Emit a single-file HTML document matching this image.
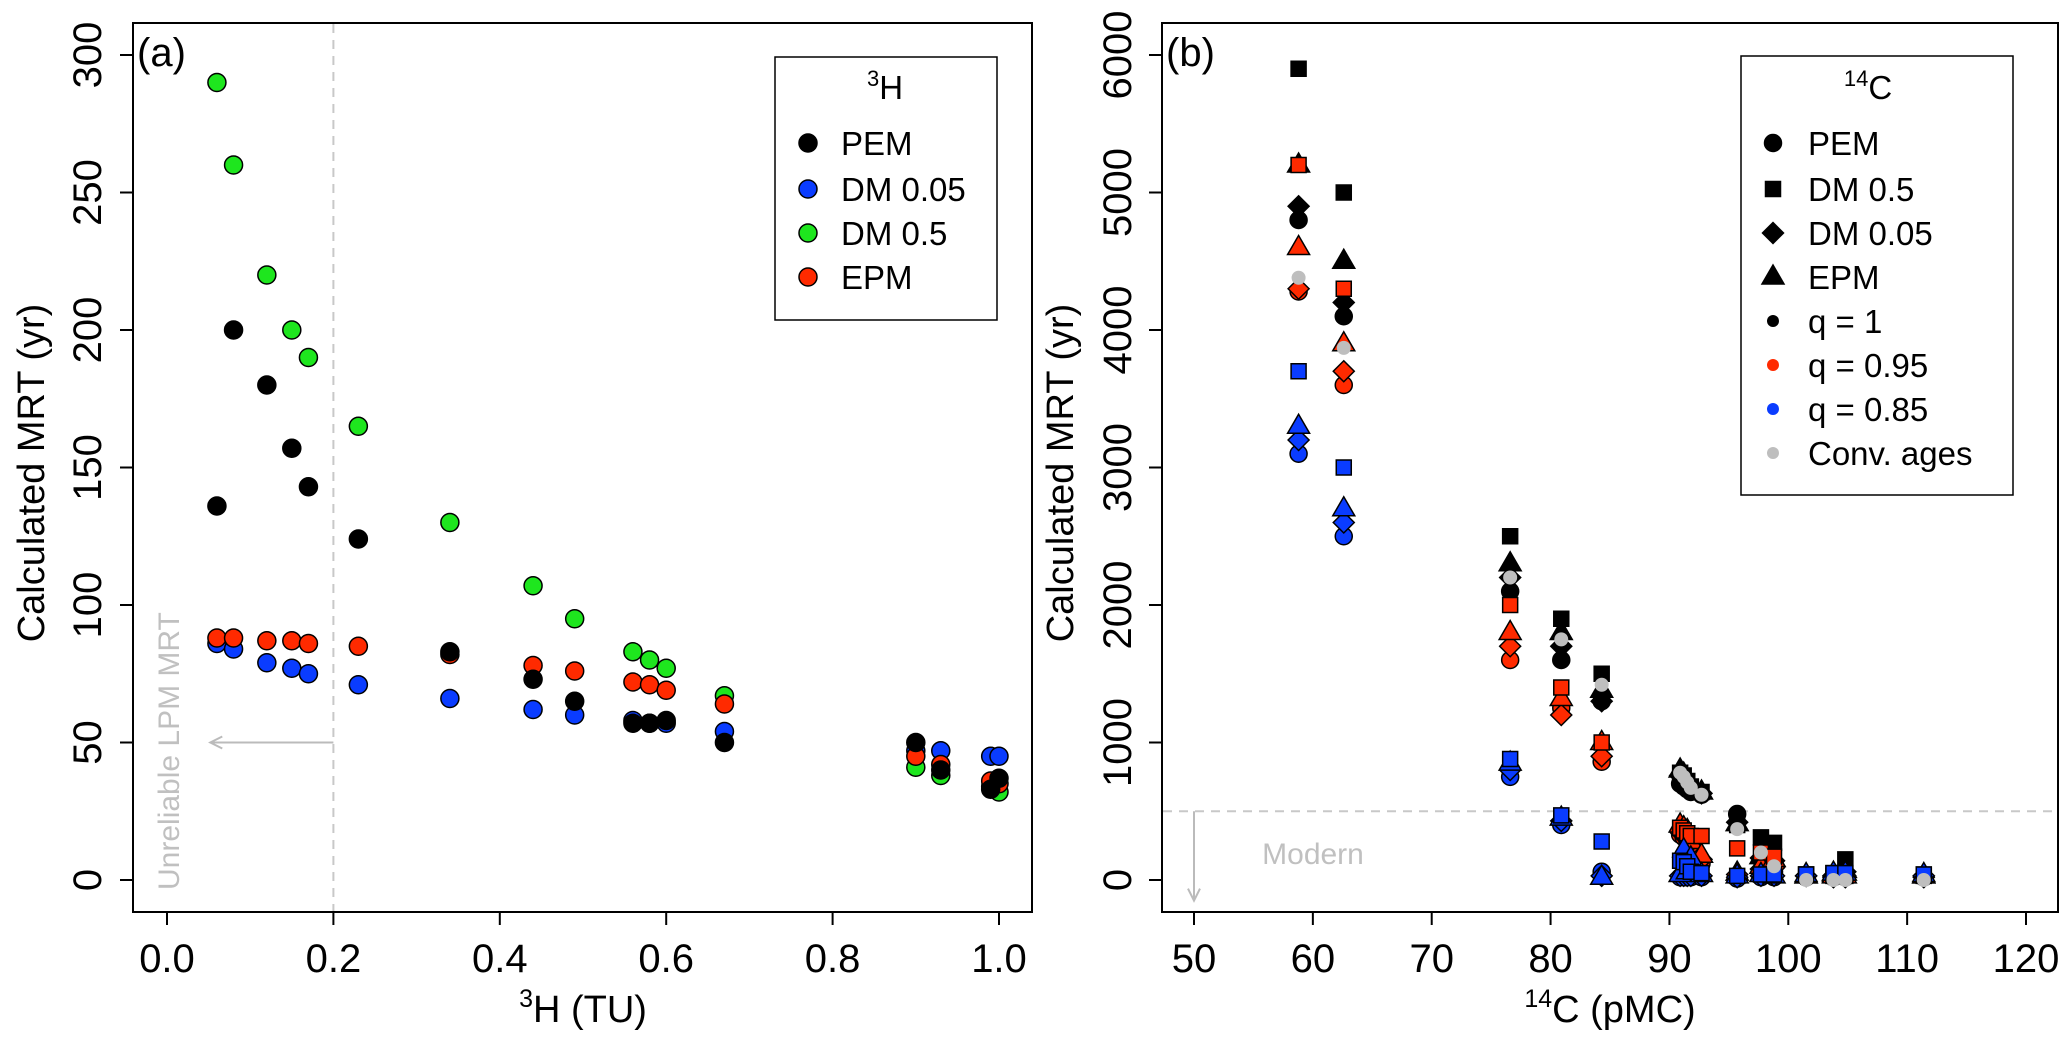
<!DOCTYPE html>
<html><head><meta charset="utf-8"><style>
html,body{margin:0;padding:0;background:#fff;}
svg{display:block;font-family:"Liberation Sans",Arial,sans-serif;}
</style></head><body>
<svg id="chart" width="2067" height="1038" viewBox="0 0 2067 1038" xmlns="http://www.w3.org/2000/svg">
<rect x="0" y="0" width="2067" height="1038" fill="#fff"/>
<g id="pa"></g>
<g id="pb"></g>
</svg>
<script>
// ---------- Panel (a) data ----------
const aX = [0.06,0.08,0.12,0.15,0.17,0.23,0.34,0.44,0.49,0.56,0.58,0.60,0.67,0.90,0.93,0.99,1.00];
const aDM05 = [290,260,220,200,190,165,130,107,95,83,80,77,67,41,38,34,32];
const aDM005 = [86,84,79,77,75,71,66,62,60,58,57,57,54,47,47,45,45];
const aEPM = [88,88,87,87,86,85,82,78,76,72,71,69,64,45,42,36,35];
const aPEM = [136,200,180,157,143,124,83,73,65,57,57,58,50,50,40,33,37];
const aXTicks = [0,0.2,0.4,0.6,0.8,1.0];
const aXTickLabels = ["0.0","0.2","0.4","0.6","0.8","1.0"];
const aYTicks = [0,50,100,150,200,250,300];

// ---------- Panel (b) data ----------
const bX = [58.8,62.6,76.6,80.9,84.3,90.9,91.2,91.5,91.8,92.7,95.7,97.7,98.8,101.5,103.8,104.8,111.4];
const bPEM1  = [4800,4100,2100,1600,1300,700,680,660,640,620,480,150,120,20,20,30,20];
const bDM051 = [5900,5000,2500,1900,1500,780,760,720,680,640,400,310,270,40,50,150,40];
const bDM0051= [4900,4200,2200,1700,1300,760,740,700,670,630,420,160,140,30,30,60,30];
const bEPM1  = [5200,4500,2300,1800,1380,800,770,730,690,640,410,170,150,30,40,70,30];
const bPEM95  = [4280,3600,1600,1250,860,330,310,290,260,120,30,60,60,20,20,20,20];
const bDM0595 = [5200,4300,2000,1400,1000,380,360,340,320,320,230,200,170,40,30,30,30];
const bDM00595= [4300,3700,1700,1200,900,350,330,310,280,150,40,80,90,30,20,20,20];
const bEPM95  = [4600,3900,1800,1320,1000,400,380,360,280,180,50,100,150,30,30,30,30];
const bPEM85  = [3100,2500,750,400,60,20,20,20,20,20,10,20,20,20,20,20,20];
const bDM0585 = [3700,3000,880,470,280,140,130,100,60,50,30,40,40,40,50,50,40];
const bDM00585= [3200,2600,800,430,30,30,30,30,30,30,20,30,30,30,30,30,30];
const bEPM85  = [3300,2700,850,450,20,40,220,60,160,40,30,40,30,40,50,50,40];
const bConv = [4380,3870,2200,1750,1420,780,750,710,670,620,370,200,100,0,0,0,0];
const bXTicks = [50,60,70,80,90,100,110,120];
const bYTicks = [0,1000,2000,3000,4000,5000,6000];

const NS="http://www.w3.org/2000/svg";
function mk(parent,tag,attrs,text){const e=document.createElementNS(NS,tag);for(const k in attrs)e.setAttribute(k,attrs[k]);if(text!==undefined)e.textContent=text;parent.appendChild(e);return e;}

const COL={black:"#000",blue:"#0a3cff",green:"#1ee61e",red:"#ff2a00",gray:"#bebebe"};
const TF=40, AF=38;

// ---------- Panel A ----------
const pa=document.getElementById('pa');
const ax=v=>167+(v-0)*(999-167)/1.0;
const ay=v=>880-(v)*(880-55)/300;
let e;
e=mk(pa,'rect',{x:133,y:23,width:899,height:889,fill:'none',stroke:'#000','stroke-width':2});

e=mk(pa,'line',{x1:ax(0.2),y1:24,x2:ax(0.2),y2:911,stroke:'#c8c8c8','stroke-width':2,'stroke-dasharray':'9,7'});

e=mk(pa,'line',{x1:ax(0.2),y1:ay(50),x2:ax(0.052),y2:ay(50),stroke:'#bbb','stroke-width':2});

mk(pa,'polyline',{points:`${ax(0.052)+12},${ay(50)-6} ${ax(0.052)},${ay(50)} ${ax(0.052)+12},${ay(50)+6}`,fill:'none',stroke:'#bbb','stroke-width':2});
e=mk(pa,'text',{x:0,y:0,transform:`translate(179,890) rotate(-90)`,'font-size':30,fill:'#c0c0c0'},'Unreliable LPM MRT');

aXTicks.forEach((t,i)=>{
  mk(pa,'line',{x1:ax(t),y1:912,x2:ax(t),y2:925,stroke:'#000','stroke-width':2});
  e=mk(pa,'text',{x:ax(t),y:972,'font-size':TF,'text-anchor':'middle'},aXTickLabels[i]);
  
});
mk(pa,'line',{x1:ax(0),y1:912,x2:ax(1),y2:912,stroke:'#000','stroke-width':2});
aYTicks.forEach(t=>{
  mk(pa,'line',{x1:133,y1:ay(t),x2:120,y2:ay(t),stroke:'#000','stroke-width':2});
  e=mk(pa,'text',{x:0,y:0,transform:`translate(101,${ay(t)}) rotate(-90)`,'font-size':TF,'text-anchor':'middle'},String(t));
  
});
e=mk(pa,'text',{x:0,y:0,transform:`translate(44,473) rotate(-90)`,'font-size':AF,'text-anchor':'middle'},'Calculated MRT (yr)');

e=mk(pa,'text',{x:583,y:1022,'font-size':AF,'text-anchor':'middle'});
e.innerHTML='<tspan font-size="25" dy="-15">3</tspan><tspan dy="15">H (TU)</tspan>';

e=mk(pa,'text',{x:137,y:66,'font-size':40},'(a)');

function circ(g,x,y,r,fill,name){const c=mk(g,'circle',{cx:x,cy:y,r:r,fill:fill,stroke:'#000','stroke-width':1.5});return c;}
[[aDM05,COL.green,'dm05'],[aDM005,COL.blue,'dm005'],[aEPM,COL.red,'epm'],[aPEM,COL.black,'pem']].forEach(([arr,col,nm])=>{
  arr.forEach((v,i)=>circ(pa,ax(aX[i]),ay(v),9,col,'point-'+nm));
});
e=mk(pa,'rect',{x:775,y:57,width:222,height:263,fill:'#fff',stroke:'#000','stroke-width':1.5});

e=mk(pa,'text',{x:885,y:99,'font-size':33,'text-anchor':'middle'});
e.innerHTML='<tspan font-size="22" dy="-13">3</tspan><tspan dy="13">H</tspan>';
const legA=[['PEM',COL.black],['DM 0.05',COL.blue],['DM 0.5',COL.green],['EPM',COL.red]];
const legAY=[143,189,233,277];
legA.forEach((l,i)=>{
  circ(pa,808,legAY[i],9,l[1],'legend-marker-a');
  e=mk(pa,'text',{x:841,y:legAY[i]+12,'font-size':33},l[0]);
  
});

// ---------- Panel B ----------
const pb=document.getElementById('pb');
const bx=v=>1194+(v-50)*(2026-1194)/70;
const by=v=>880-v*(880-55)/6000;
e=mk(pb,'rect',{x:1162,y:23,width:896,height:889,fill:'none',stroke:'#000','stroke-width':2});

e=mk(pb,'line',{x1:1163,y1:by(500),x2:2057,y2:by(500),stroke:'#c8c8c8','stroke-width':2,'stroke-dasharray':'9,7'});

mk(pb,'line',{x1:bx(50),y1:by(500),x2:bx(50),y2:by(-150),stroke:'#bbb','stroke-width':2});
mk(pb,'polyline',{points:`${bx(50)-6},${by(-150)-12} ${bx(50)},${by(-150)} ${bx(50)+6},${by(-150)-12}`,fill:'none',stroke:'#bbb','stroke-width':2});
e=mk(pb,'text',{x:1313,y:864,'font-size':30,fill:'#c0c0c0','text-anchor':'middle'},'Modern');

bXTicks.forEach(t=>{
  mk(pb,'line',{x1:bx(t),y1:912,x2:bx(t),y2:925,stroke:'#000','stroke-width':2});
  e=mk(pb,'text',{x:bx(t),y:972,'font-size':TF,'text-anchor':'middle'},String(t));
  
});
mk(pb,'line',{x1:bx(50),y1:912,x2:bx(120),y2:912,stroke:'#000','stroke-width':2});
bYTicks.forEach(t=>{
  mk(pb,'line',{x1:1162,y1:by(t),x2:1149,y2:by(t),stroke:'#000','stroke-width':2});
  e=mk(pb,'text',{x:0,y:0,transform:`translate(1131,${by(t)}) rotate(-90)`,'font-size':TF,'text-anchor':'middle'},String(t));
  
});
e=mk(pb,'text',{x:0,y:0,transform:`translate(1073,473) rotate(-90)`,'font-size':AF,'text-anchor':'middle'},'Calculated MRT (yr)');

e=mk(pb,'text',{x:1610,y:1022,'font-size':AF,'text-anchor':'middle'});
e.innerHTML='<tspan font-size="25" dy="-15">14</tspan><tspan dy="15">C (pMC)</tspan>';

e=mk(pb,'text',{x:1166,y:66,'font-size':40},'(b)');


function shape(g,kind,x,y,fill,name,stroke){
  stroke=stroke||'#000';let s;
  if(kind==='circle') s=mk(g,'circle',{cx:x,cy:y,r:8.5,fill:fill,stroke:stroke,'stroke-width':1.5});
  else if(kind==='square') s=mk(g,'rect',{x:x-7.5,y:y-7.5,width:15,height:15,fill:fill,stroke:stroke,'stroke-width':1.5});
  else if(kind==='diamond') s=mk(g,'polygon',{points:`${x},${y-10.5} ${x+10.5},${y} ${x},${y+10.5} ${x-10.5},${y}`,fill:fill,stroke:stroke,'stroke-width':1.5});
  else s=mk(g,'polygon',{points:`${x},${y-12} ${x+11},${y+7} ${x-11},${y+7}`,fill:fill,stroke:stroke,'stroke-width':1.5});
  
  
  return s;
}
const groups=[
  [COL.black,[['circle',bPEM1],['diamond',bDM0051],['triangle',bEPM1],['square',bDM051]],'q1'],
  [COL.red,[['circle',bPEM95],['diamond',bDM00595],['triangle',bEPM95],['square',bDM0595]],'q095'],
  [COL.blue,[['circle',bPEM85],['diamond',bDM00585],['triangle',bEPM85],['square',bDM0585]],'q085']
];
groups.forEach(([col,list,q])=>{
  list.forEach(([k,arr])=>arr.forEach((v,i)=>shape(pb,k,bx(bX[i]),by(v),col,'point-'+k+'-'+q)));
});
bConv.forEach((v,i)=>{
  const c=mk(pb,'circle',{cx:bx(bX[i]),cy:by(v),r:7,fill:COL.gray});
  
  
});
e=mk(pb,'rect',{x:1741,y:56,width:272,height:439,fill:'#fff',stroke:'#000','stroke-width':1.5});

e=mk(pb,'text',{x:1868,y:99,'font-size':33,'text-anchor':'middle'});
e.innerHTML='<tspan font-size="22" dy="-13">14</tspan><tspan dy="13">C</tspan>';
const legBY=[143,189,233,277,321,365,409,453];
const legB=[['PEM','circle'],['DM 0.5','square'],['DM 0.05','diamond'],['EPM','triangle'],['q = 1','dot','#000'],['q = 0.95','dot',COL.red],['q = 0.85','dot',COL.blue],['Conv. ages','dot',COL.gray]];
legB.forEach((l,i)=>{
  if(l[1]==='dot'){const c=mk(pb,'circle',{cx:1773,cy:legBY[i],r:6,fill:l[2]});}
  else shape(pb,l[1],1773,legBY[i],'#000','legend-marker-b');
  e=mk(pb,'text',{x:1808,y:legBY[i]+12,'font-size':33},l[0]);
  
});
</script>
</body></html>
